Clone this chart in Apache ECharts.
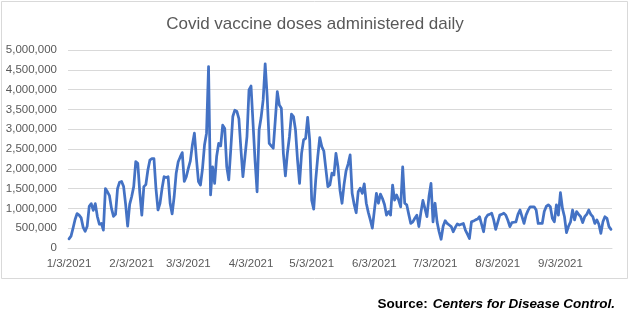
<!DOCTYPE html>
<html>
<head>
<meta charset="utf-8">
<script src="https://cdn.jsdelivr.net/npm/echarts@6/dist/echarts.min.js"></script>
<style>html,body{margin:0;padding:0;background:#fff}#c{width:630px;height:325px}</style>
</head>
<body>
<div id="c"></div>
<script>
// Daily doses administered (millions), starting 1/3/2021
const startDate = [2021, 1, 3];
const doses = [
0.23,0.30,0.50,0.72,0.87,0.83,0.76,0.52,0.42,0.55,
1.05,1.12,0.95,1.12,0.80,0.60,0.62,0.45,1.50,1.42,
1.32,1.00,0.80,0.85,1.50,1.66,1.68,1.55,1.10,0.55,
1.10,1.30,1.55,2.18,2.14,1.40,0.83,1.55,1.60,1.97,
2.22,2.26,2.26,1.50,0.96,1.13,1.50,1.80,1.78,1.80,
1.13,0.86,1.30,1.89,2.18,2.30,2.41,1.68,1.80,2.01,
2.20,2.60,2.90,2.26,1.68,1.59,2.00,2.60,2.90,4.58,
1.34,2.05,1.63,2.31,2.64,2.58,3.10,3.02,2.05,1.72,
2.50,3.32,3.48,3.45,3.27,2.50,1.80,2.30,2.81,3.99,
4.09,3.15,2.20,1.42,2.98,3.30,3.74,4.65,3.82,2.64,
2.58,2.52,3.23,3.95,3.61,3.53,2.39,1.82,2.40,2.81,
3.38,3.32,2.98,2.22,1.63,2.39,2.73,2.77,3.30,2.73,
1.21,0.98,1.72,2.30,2.79,2.56,2.45,2.00,1.55,1.59,
1.89,1.84,2.39,2.05,1.46,1.13,1.60,1.95,2.12,2.35,
1.38,1.10,0.89,1.42,1.51,1.38,1.62,1.13,0.90,0.71,
0.50,0.95,1.38,1.13,1.36,1.25,1.10,0.83,0.92,0.83,
1.59,1.21,1.34,1.21,1.04,2.05,1.13,1.09,0.85,0.62,
0.66,0.75,0.83,0.54,0.90,1.20,1.00,0.79,1.30,1.63,
0.66,1.13,0.66,0.41,0.22,0.55,0.69,0.62,0.58,0.54,
0.41,0.52,0.61,0.58,0.60,0.62,0.45,0.35,0.24,0.66,
0.68,0.71,0.73,0.79,0.60,0.41,0.75,0.83,0.85,0.88,
0.71,0.47,0.65,0.83,0.85,0.88,0.83,0.70,0.54,0.64,
0.65,0.66,0.85,0.96,0.79,0.62,0.83,0.95,1.04,1.04,
1.04,0.96,0.62,0.62,0.62,0.92,1.05,1.09,1.04,0.75,
0.66,1.09,0.83,1.40,1.00,0.79,0.39,0.55,0.66,0.96,
0.71,0.92,0.85,0.79,0.64,0.79,0.85,0.96,0.85,0.79,
0.62,0.71,0.60,0.37,0.66,0.79,0.75,0.54,0.47
];
const tickLabels = ["1/3/2021","2/3/2021","3/3/2021","4/3/2021","5/3/2021","6/3/2021","7/3/2021","8/3/2021","9/3/2021"];
const titleText = "Covid vaccine doses administered daily";

const dates = [];
const d0 = new Date(startDate[0], startDate[1] - 1, startDate[2]);
for (let i = 0; i < doses.length; i++) {
  const d = new Date(d0.getFullYear(), d0.getMonth(), d0.getDate() + i);
  dates.push((d.getMonth() + 1) + '/' + d.getDate() + '/' + d.getFullYear());
}
const values = doses.map(v => Math.round(v * 1000000));

const chart = echarts.init(document.getElementById('c'), null, {renderer: 'canvas'});
chart.setOption({
  animation: false,
  backgroundColor: '#fff',
  title: [{
    text: titleText,
    left: 'center',
    top: 11,
    textStyle: {fontFamily: 'Liberation Sans', fontSize: 17, fontWeight: 'normal', color: '#595959'}
  }, {
    text: '{b|Source:} {i|Centers for Disease Control.}',
    right: 10,
    top: 290,
    textStyle: {
      rich: {
        b: {fontFamily: 'Liberation Sans', fontSize: 13.5, fontWeight: 'bold', color: '#000'},
        i: {fontFamily: 'Liberation Sans', fontSize: 13.5, fontStyle: 'italic', color: '#000'}
      }
    }
  }],
  graphic: [{
    type: 'rect',
    shape: {x: 1.5, y: 1.5, width: 626, height: 277},
    style: {fill: 'none', stroke: '#d9d9d9', lineWidth: 1},
    silent: true
  }],
  grid: {left: 68, right: 18, top: 50, bottom: 77, containLabel: false},
  xAxis: {
    type: 'category',
    data: dates,
    boundaryGap: true,
    axisLine: {show: true, lineStyle: {color: '#d9d9d9'}},
    axisTick: {show: false},
    axisLabel: {
      interval: function (idx, val) { return tickLabels.indexOf(val) >= 0; },
      hideOverlap: false,
      fontFamily: 'Liberation Sans', fontSize: 11.5, color: '#595959', margin: 10
    },
    splitLine: {show: false}
  },
  yAxis: {
    type: 'value',
    min: 0, max: 5000000, interval: 500000,
    axisLine: {show: false},
    axisTick: {show: false},
    axisLabel: {
      fontFamily: 'Liberation Sans', fontSize: 11.5, color: '#595959', margin: 11,
      formatter: function (v) { return v.toLocaleString('en-US'); }
    },
    splitLine: {lineStyle: {color: '#d9d9d9', width: 1}}
  },
  series: [{
    type: 'line',
    data: values,
    showSymbol: false,
    symbol: 'none',
    lineStyle: {color: '#4472C4', width: 2.75, join: 'round', cap: 'round'},
    itemStyle: {color: '#4472C4'}
  }]
});
</script>
</body>
</html>
